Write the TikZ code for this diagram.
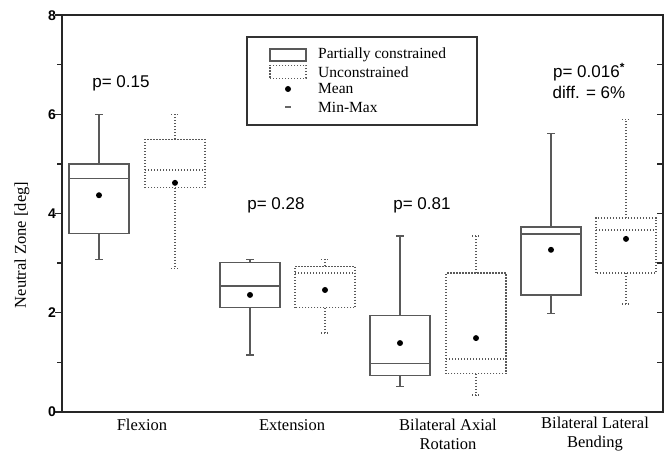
\documentclass[tikz,border=0pt]{standalone}
\usepackage{fontspec}
\setmainfont{Liberation Serif}
\setsansfont{Liberation Sans}
\usepackage{tikz}
\usetikzlibrary{positioning}
\tikzset{
		partial/.style={draw=black!65, line width=1.2pt},
		uncon/.style={draw=black!65, line width=1.3pt, dash pattern=on 1.3pt off 1.7pt},
		axisline/.style={draw=black!85, line width=1.8pt},
		meandot/.style={circle, fill=black, inner sep=0pt, minimum size=6pt},
		pval/.style={font=\sffamily\fontsize{17}{20}\selectfont, inner sep=1pt},
		ticklabel/.style={font=\sffamily\bfseries\fontsize{14}{16}\selectfont, anchor=east},
		catlabel/.style={font=\fontsize{16.5}{19}\selectfont, align=center},
		legtext/.style={font=\fontsize{15.5}{17}\selectfont, anchor=west, inner sep=0pt}
	}
% #1 style, #2 x, #3 min, #4 q1, #5 median, #6 q3, #7 max, #8 mean
\newcommand{\bplot}[8]{%
	\draw[#1] (#2-30,#4) rectangle (#2+30,#6);
	\draw[#1] (#2-30,#5) -- (#2+30,#5);
	\draw[#1] (#2,#6) -- (#2,#7) (#2-4,#7) -- (#2+4,#7);
	\draw[#1] (#2,#4) -- (#2,#3) (#2-4,#3) -- (#2+4,#3);
	\fill (#2,#8) circle (3pt);
}

\begin{document}
\begin{tikzpicture}[x=1pt, y=-1pt]
		\useasboundingbox (0,0) rectangle (667,454);

		% data area: y in deg
		\begin{scope}[shift={(0,412)}, y=49.6pt]
			\draw[axisline] (62,0) rectangle (663,8);
			\foreach \v in {0,2,...,8}
				\draw[axisline, line width=1.4pt] (55,\v) -- (62,\v) node[ticklabel, left=2pt] {\v};
			\foreach \v in {1,3,5,7}
				\draw[axisline, line width=1.4pt] (57,\v) -- (62,\v);
			\foreach \v in {1,...,7}
				\draw[axisline, line width=1.4pt] (657,\v) -- (663,\v);

			\bplot{partial}{99}{3.08}{3.6}{4.7}{5.0}{6.0}{4.37}
			\bplot{uncon}{175}{2.9}{4.52}{4.88}{5.5}{6.0}{4.62}
			\bplot{partial}{250}{1.15}{2.1}{2.54}{3.02}{3.08}{2.36}
			\bplot{uncon}{325}{1.59}{2.1}{2.8}{2.94}{3.08}{2.46}
			\bplot{partial}{400}{0.52}{0.73}{0.97}{1.94}{3.55}{1.39}
			\bplot{uncon}{476}{0.34}{0.77}{1.07}{2.8}{3.55}{1.49}
			\bplot{partial}{551}{1.98}{2.36}{3.59}{3.73}{5.62}{3.27}
			\bplot{uncon}{626}{2.18}{2.8}{3.67}{3.91}{5.9}{3.49}
		\end{scope}

		\node[rotate=90, font=\fontsize{16.5}{19}\selectfont] (ylab) at (22,245) {Neutral Zone [deg]};

		% legend
		\node[draw=black!80, line width=1.3pt, minimum width=230pt, minimum height=88pt] (legend) at (362,81) {};
		\node[partial, minimum width=36pt, minimum height=12pt, inner sep=0pt] (symPart) at (288,55) {};
		\node[uncon, minimum width=36pt, minimum height=13pt, inner sep=0pt] (symUncon) at (288,72) {};
		\node[meandot] (symMean) at (288,89) {};
		\node[fill=black!60, minimum width=6pt, minimum height=1.5pt, inner sep=0pt] (symMinMax) at (288,107) {};
		\node[legtext] (txPart) at (318,55) {Partially constrained};
		\node[legtext] (txUncon) at (318,72) {Unconstrained};
		\node[legtext] (txMean) at (318,89) {Mean};
		\node[legtext] (txMinMax) at (318,107) {Min-Max};

		% p values
		\node[pval] (pFlex) at (121,83) {p= 0.15};
		\node[pval] (pExt) at (276,205) {p= 0.28};
		\node[pval] (pAx) at (422,205) {p= 0.81};
		\node[pval] (pLat) at (589,72) {p= 0.016\textsuperscript{\bfseries *}};
		\node[pval] (diffLat) [below=3pt of pLat] {diff. = 6\%};

		% categories
		\node[catlabel] (cFlex) at (142,425) {Flexion};
		\node[catlabel] (cExt) at (292,425) {Extension};
		\node[catlabel] (cAx) at (448,434) {Bilateral Axial\\Rotation};
		\node[catlabel] (cLat) at (595,434) {Bilateral Lateral\\Bending};
	\end{tikzpicture}
\end{document}
